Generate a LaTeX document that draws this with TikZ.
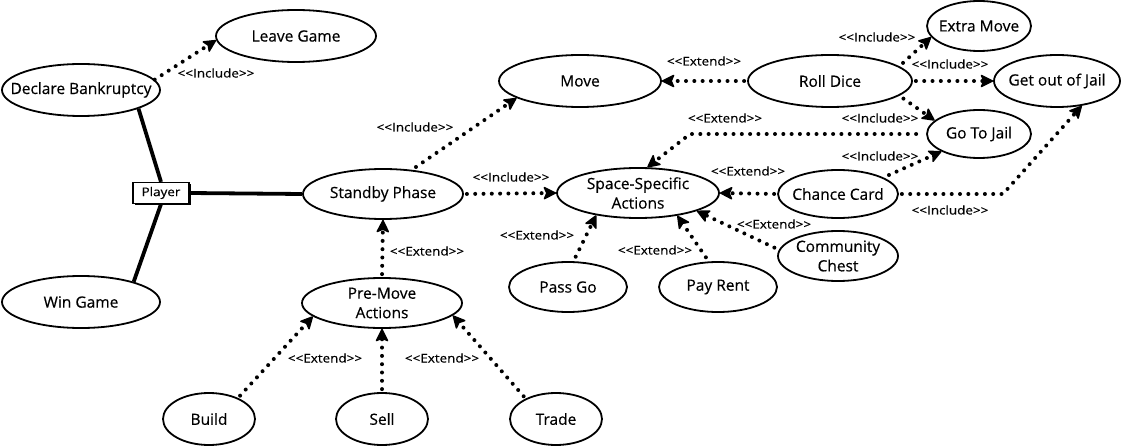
\documentclass[tikz,border=0pt]{standalone}
\usepackage{fontspec}
\setmainfont{Open Sans}[FakeBold=0.4]
\newfontfamily\labfont[FakeStretch=1.12,FakeBold=0.3,Ligatures=TeXOff]{Open Sans}
\usetikzlibrary{shapes.geometric,arrows.meta,shadows}
\newcommand\inclab{<\kern0pt<Include>\kern0pt>}
\newcommand\extlab{<\kern0pt<Extend>\kern0pt>}
\newcommand\ctr[1]{\makebox[0pt][c]{#1}}
\begin{document}
\begin{tikzpicture}[x=1pt,y=-1pt,
  uc/.style={ellipse,draw,line width=1.8pt,inner sep=0pt,fill=white,align=center,
    font=\fontsize{15.5}{19.5}\selectfont},
  actorbox/.style={draw,line width=1.2pt,fill=white,minimum width=56pt,minimum height=21pt,
    inner sep=0pt,font=\labfont\fontsize{12}{13}\selectfont,
    drop shadow={shadow xshift=2pt,shadow yshift=-2pt,fill=black,opacity=1}},
  actorline/.style={line width=3.8pt},
  dep/.style={line width=4pt,dash pattern=on 0pt off 8.3pt,line cap=round,
    -{Stealth[length=14pt,width=14pt,inset=3pt,line width=1.5pt,round]}},
  lab/.style={inner sep=0pt,font=\labfont\fontsize{12}{13}\selectfont}
]
\fill[white] (0,0) rectangle (1123,446);
\useasboundingbox (0,0) rectangle (1123,446);

% use cases
\node[uc,minimum width=160pt,minimum height=52pt] (leave) at (296,36) {\ctr{Leave Game}};
\node[uc,minimum width=158pt,minimum height=52pt] (decl) at (81,90) {\ctr{Declare Bankruptcy}};
\node[uc,minimum width=158pt,minimum height=52pt] (win) at (81,302) {\ctr{Win Game}};
\node[uc,minimum width=160pt,minimum height=50pt] (standby) at (383,194) {\ctr{Standby Phase}};
\node[uc,minimum width=162pt,minimum height=52pt] (move) at (580,81) {\ctr{Move}};
\node[uc,minimum width=164pt,minimum height=52pt] (roll) at (830,81) {\ctr{Roll Dice}};
\node[uc,minimum width=104pt,minimum height=50pt] (extra) at (979,26) {\ctr{Extra Move}};
\node[uc,minimum width=126pt,minimum height=52pt] (getout) at (1057,81) {\ctr{Get out of Jail}};
\node[uc,minimum width=104pt,minimum height=48pt] (gotojail) at (979,134) {\ctr{Go To Jail}};
\node[uc,minimum width=162pt,minimum height=50pt] (space) at (638,193) {\ctr{Space-Specific}\\\ctr{Actions}};
\node[uc,minimum width=120pt,minimum height=48pt] (chance) at (838,194) {\ctr{Chance Card}};
\node[uc,minimum width=120pt,minimum height=50pt] (community) at (838,256) {\ctr{Community}\\\ctr{Chest}};
\node[uc,minimum width=118pt,minimum height=50pt] (passgo) at (568,287) {\ctr{Pass Go}};
\node[uc,minimum width=118pt,minimum height=50pt] (payrent) at (718,287) {\ctr{Pay Rent}};
\node[uc,minimum width=160pt,minimum height=50pt] (premove) at (382,303) {\ctr{Pre-Move}\\\ctr{Actions}};
\node[uc,minimum width=92pt,minimum height=52pt] (build) at (209,419) {\ctr{Build}};
\node[uc,minimum width=92pt,minimum height=52pt] (sell) at (382,419) {\ctr{Sell}};
\node[uc,minimum width=92pt,minimum height=52pt] (trade) at (556,419) {\ctr{Trade}};

% actor
\node[actorbox] (player) at (161,193) {Player};
\draw[actorline] (decl.-18) -- (player.north);
\draw[actorline] (player.south) -- (win.21);
\draw[actorline] (player.east) -- (standby.west);

% dependencies
\draw[dep] (decl.8) -- (leave.183);
\draw[dep,shorten <=5pt] (standby.40) -- (move.195);
\draw[dep,shorten <=3pt] (standby.east) -- (space.west);
\draw[dep,shorten <=3pt] (premove.north) -- (standby.south);
\draw[dep,shorten <=3pt] (build.36) -- (premove.191);
\draw[dep,shorten <=3pt] (sell.north) -- (premove.south);
\draw[dep,shorten <=3pt] (trade.146) -- (premove.-10);
\draw[dep,shorten <=3pt] (roll.west) -- (move.east);
\draw[dep,shorten <=5pt] (roll.12) -- (extra.193);
\draw[dep,shorten <=3pt] (roll.east) -- (getout.west);
\draw[dep,shorten <=5pt] (roll.-12) -- (gotojail.163);
\coordinate (c1) at (690,134);
\draw[dep,shorten <=10pt] (gotojail.west) -- (c1) -- (space.70);
\draw[dep,shorten <=6pt] (chance.20) -- (gotojail.205);
\draw[dep,shorten <=3pt] (chance.west) -- (space.east);
\coordinate (c2) at (1003,194);
\draw[dep,shorten <=3pt] (chance.east) -- (c2) -- (getout.-45);
\draw[dep,shorten <=5pt] (community.174) -- (space.-17);
\draw[dep,shorten <=5pt] (passgo.78) -- (space.208);
\draw[dep,shorten <=5pt] (payrent.110) -- (space.-30);

% labels
\node[lab] (l1) at (216,73) {\inclab};
\node[lab] (l2) at (415,127) {\inclab};
\node[lab] (l3) at (511,177) {\inclab};
\node[lab] (l4) at (427,251) {\extlab};
\node[lab] (l5) at (325,358) {\extlab};
\node[lab] (l6) at (442,358) {\extlab};
\node[lab] (l7) at (704,61) {\extlab};
\node[lab] (l8) at (877,37) {\inclab};
\node[lab] (l9) at (950,64) {\inclab};
\node[lab] (l10) at (880,118) {\inclab};
\node[lab] (l11) at (725,118) {\extlab};
\node[lab] (l12) at (880,156) {\inclab};
\node[lab] (l13) at (748,171) {\extlab};
\node[lab] (l14) at (950,210) {\inclab};
\node[lab] (l15) at (774,224) {\extlab};
\node[lab] (l16) at (537,235) {\extlab};
\node[lab] (l17) at (655,250) {\extlab};
\end{tikzpicture}
\end{document}
